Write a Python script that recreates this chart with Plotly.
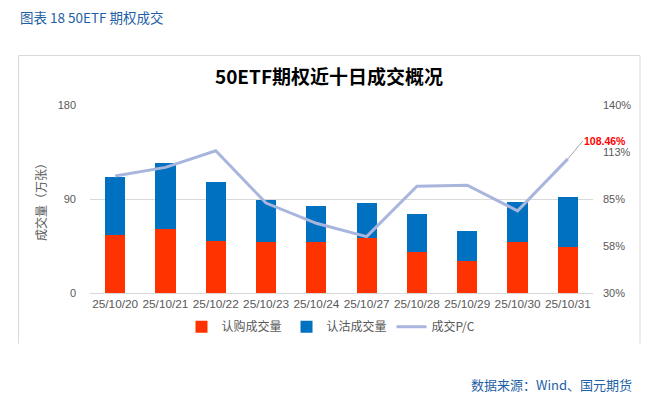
import plotly.graph_objects as go

dates = ["25/10/20", "25/10/21", "25/10/22", "25/10/23", "25/10/24",
         "25/10/27", "25/10/28", "25/10/29", "25/10/30", "25/10/31"]
call_vol = [55.6, 61.4, 49.9, 49.2, 49.2, 53.1, 39.6, 30.7, 49.2, 44.1]
put_vol = [55.7, 63.3, 56.6, 40.0, 34.2, 33.2, 36.2, 28.8, 38.1, 48.0]
pc_ratio = [98.4, 103.5, 113.2, 82.6, 70.8, 63.0, 92.5, 93.1, 78.1, 108.46]

left_ticks = [0, 90, 180]
right_tickvals = [30, 57.5, 85, 112.5, 140]
right_ticktext = ["30%", "58%", "85%", "113%", "140%"]

W, H = 657, 399
ML, MR, MT, MB = 90, 64, 105, 106
PW, PH = W - ML - MR, H - MT - MB


def px(x):
    return (x - ML) / PW


def py(y):
    return (H - MB - y) / PH


FONT = "Liberation Sans, Noto Sans CJK SC, sans-serif"
CJK = "Noto Sans CJK SC, sans-serif"
GRAY = "#595959"
BLUE_TXT = "#1F5FA6"

fig = go.Figure()
fig.add_trace(go.Bar(x=dates, y=call_vol, name="认购成交量", marker_color="#FF3300",
                     marker_line_width=0))
fig.add_trace(go.Bar(x=dates, y=put_vol, name="认沽成交量", marker_color="#0070C0",
                     marker_line_width=0))
fig.add_trace(go.Scatter(x=dates, y=pc_ratio, name="成交P/C", mode="lines",
                         line=dict(color="#A8B6DD", width=3), yaxis="y2"))

fig.update_layout(
    width=W, height=H,
    margin=dict(l=ML, r=MR, t=MT, b=MB),
    paper_bgcolor="white", plot_bgcolor="white",
    font=dict(family=FONT, size=11, color=GRAY),
    barmode="stack", bargap=0.6,
    title=dict(text="<b>50ETF期权近十日成交概况</b>", x=329 / W, xref="container",
               xanchor="center", y=1 - 77.5 / H, yref="container", yanchor="middle",
               font=dict(size=19, color="#000000", family=CJK)),
    xaxis=dict(type="category", range=[-0.5, len(dates) - 0.5], autorange=False,
               tickangle=0, tickfont=dict(size=11.8, color=GRAY),
               showgrid=False, showline=True, linecolor="#D9D9D9", ticks=""),
    yaxis=dict(range=[0, 180], autorange=False, tickvals=left_ticks, showgrid=True,
               gridcolor="#D9D9D9", zeroline=False, tickfont=dict(size=11, color=GRAY),
               ticklabelstandoff=13,
               title=dict(text="成交量（万张）", font=dict(size=12, color=GRAY, family=CJK),
                          standoff=8)),
    yaxis2=dict(range=[30, 140], autorange=False, tickvals=right_tickvals,
                ticktext=right_ticktext, overlaying="y", side="right", showgrid=False,
                zeroline=False, tickfont=dict(size=11, color=GRAY), ticklabelstandoff=9),
    legend=dict(orientation="h", x=px(331), xanchor="center", y=py(326.7), yanchor="middle",
                font=dict(size=12, color=GRAY, family=CJK), traceorder="normal"),
    showlegend=True,
)

# chart frame (left, top, right edges)
frame = dict(type="line", xref="paper", yref="paper", line=dict(color="#D9D9D9", width=1))
fig.add_shape(x0=px(18.5), x1=px(18.5), y0=py(343.5), y1=py(55.5), **frame)
fig.add_shape(x0=px(18.5), x1=px(640), y0=py(55.5), y1=py(55.5), **frame)
fig.add_shape(x0=px(640), x1=px(640), y0=py(343.5), y1=py(55.5), **frame)

fig.add_annotation(text="<b>108.46%</b>", x=dates[-1], y=pc_ratio[-1], xref="x", yref="y2",
                   showarrow=True, arrowhead=0, arrowwidth=1, arrowcolor="#A6A6A6",
                   ax=15, ay=-18, xanchor="left", yanchor="middle", borderpad=0,
                   font=dict(size=10.5, color="#FF0000"))

fig.add_annotation(text="图表 18 50ETF 期权成交", xref="paper", yref="paper",
                   x=px(18), y=py(16.7), xanchor="left", yanchor="middle", showarrow=False,
                   font=dict(size=13.5, color=BLUE_TXT, family=CJK))
fig.add_annotation(text="数据来源：Wind、国元期货", xref="paper", yref="paper",
                   x=px(634), y=py(384), xanchor="right", yanchor="middle", showarrow=False,
                   font=dict(size=13, color=BLUE_TXT, family=CJK))

fig.write_html("out.html", config={"displayModeBar": False},
               post_script="document.body.style.margin='0';document.body.style.padding='0';")
